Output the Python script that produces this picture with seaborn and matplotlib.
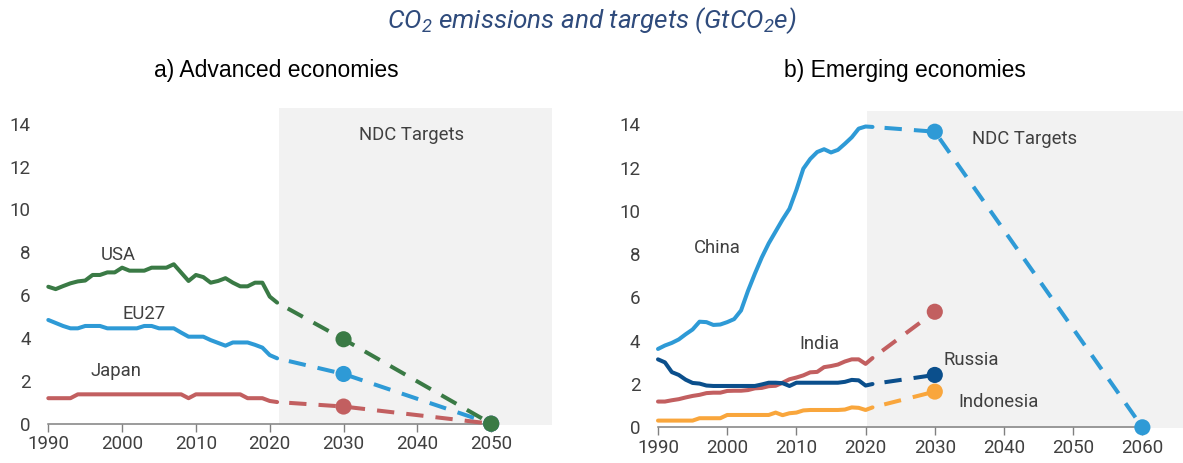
import matplotlib
matplotlib.use("Agg")
import matplotlib.pyplot as plt
import numpy as np
import pandas as pd
import seaborn as sns

# ---------------- data ----------------
years = list(range(1990, 2022))

usa = [6.39, 6.28, 6.42, 6.55, 6.64, 6.68, 6.94, 6.94, 7.06, 7.06,
       7.28, 7.14, 7.14, 7.14, 7.28, 7.28, 7.28, 7.44, 7.05, 6.66,
       6.94, 6.84, 6.58, 6.66, 6.79, 6.58, 6.41, 6.41, 6.58, 6.58,
       5.93, 5.65]
eu27 = [4.84, 4.70, 4.56, 4.45, 4.45, 4.56, 4.56, 4.56, 4.45, 4.45,
        4.45, 4.45, 4.45, 4.56, 4.56, 4.45, 4.45, 4.45, 4.25, 4.06,
        4.06, 4.06, 3.90, 3.77, 3.64, 3.79, 3.79, 3.79, 3.68, 3.55,
        3.20, 3.05]
japan = [1.19, 1.19, 1.19, 1.19, 1.37, 1.37, 1.37, 1.37, 1.37, 1.37,
         1.37, 1.37, 1.37, 1.37, 1.37, 1.37, 1.37, 1.37, 1.37, 1.19,
         1.37, 1.37, 1.37, 1.37, 1.37, 1.37, 1.37, 1.19, 1.19, 1.19,
         1.06, 1.01]

china = [3.62, 3.78, 3.90, 4.06, 4.30, 4.52, 4.88, 4.86, 4.73, 4.75,
         4.86, 5.00, 5.40, 6.30, 7.10, 7.85, 8.50, 9.05, 9.60, 10.10,
         10.97, 11.95, 12.40, 12.72, 12.85, 12.70, 12.82, 13.10, 13.40, 13.80,
         13.90, 13.88]
india = [1.19, 1.19, 1.25, 1.30, 1.38, 1.45, 1.50, 1.58, 1.60, 1.60,
         1.68, 1.69, 1.69, 1.72, 1.80, 1.82, 1.90, 1.92, 2.06, 2.22,
         2.30, 2.40, 2.54, 2.56, 2.78, 2.83, 2.90, 3.04, 3.14, 3.14,
         2.93, 3.20]
russia = [3.14, 3.00, 2.55, 2.42, 2.20, 2.05, 2.02, 1.93, 1.91, 1.91,
          1.91, 1.91, 1.91, 1.91, 1.91, 1.98, 2.06, 2.06, 2.04, 1.91,
          2.06, 2.06, 2.06, 2.06, 2.06, 2.06, 2.06, 2.10, 2.19, 2.17,
          1.93, 2.00]
indonesia = [0.31, 0.31, 0.31, 0.31, 0.31, 0.31, 0.42, 0.42, 0.42, 0.42,
             0.57, 0.57, 0.57, 0.57, 0.57, 0.57, 0.57, 0.68, 0.56, 0.65,
             0.68, 0.78, 0.80, 0.80, 0.80, 0.80, 0.80, 0.82, 0.92, 0.90,
             0.80, 0.92]

# NDC targets
adv_target_years = [2030, 2050]
usa_target = [3.94, 0.0]
eu27_target = [2.32, 0.0]
japan_target = [0.80, 0.0]

china_target_years = [2030, 2060]
china_target = [13.66, 0.0]
emg_target_years = [2030]
india_target = [5.34]
russia_target = [2.42]
indonesia_target = [1.65]

adv_ticks = [1990, 2000, 2010, 2020, 2030, 2040, 2050]
emg_ticks = [1990, 2000, 2010, 2020, 2030, 2040, 2050, 2060]
y_ticks = [0, 2, 4, 6, 8, 10, 12, 14]

colors = {
    "USA": "#3A7A45",
    "EU27": "#2E9AD6",
    "Japan": "#C25F60",
    "China": "#2E9AD6",
    "India": "#C25F60",
    "Russia": "#0B4F8C",
    "Indonesia": "#F9A63C",
}

# ---------------- frames ----------------
def hist_frame(series):
    rows = []
    for name, vals in series:
        for y, v in zip(years, vals):
            rows.append((name, y, v))
    return pd.DataFrame(rows, columns=["country", "year", "value"])


def proj_frame(series):
    rows = []
    for name, vals, tyears, tvals in series:
        rows.append((name, years[-1], vals[-1]))
        for y, v in zip(tyears, tvals):
            rows.append((name, y, v))
    return pd.DataFrame(rows, columns=["country", "year", "value"])


def target_frame(series):
    rows = []
    for name, tyears, tvals in series:
        for y, v in zip(tyears, tvals):
            rows.append((name, y, v))
    return pd.DataFrame(rows, columns=["country", "year", "value"])


adv_series = [("Japan", japan, adv_target_years, japan_target),
              ("EU27", eu27, adv_target_years, eu27_target),
              ("USA", usa, adv_target_years, usa_target)]
emg_series = [("Indonesia", indonesia, emg_target_years, indonesia_target),
              ("India", india, emg_target_years, india_target),
              ("Russia", russia, emg_target_years, russia_target),
              ("China", china, china_target_years, china_target)]

adv_hist = hist_frame([(n, v) for n, v, _, _ in adv_series])
adv_proj = proj_frame(adv_series)
adv_tgt = target_frame([(n, ty, tv) for n, _, ty, tv in adv_series])
emg_hist = hist_frame([(n, v) for n, v, _, _ in emg_series])
emg_proj = proj_frame(emg_series)
emg_tgt = target_frame([(n, ty, tv) for n, _, ty, tv in emg_series])

# ---------------- style ----------------
sns.set_theme(style="white")
plt.rcParams["font.family"] = ["Roboto", "DejaVu Sans"]
plt.rcParams["mathtext.fontset"] = "custom"
plt.rcParams["mathtext.rm"] = "Roboto:italic"
plt.rcParams["mathtext.it"] = "Roboto:italic"
plt.rcParams["mathtext.default"] = "regular"

TXT = "#404040"
AXC = "#808080"
SHADE = "#F2F2F2"
LW = 2.9
DASH = (4.3, (4.3, 3.0))

W, H = 1183, 463
fig = plt.figure(figsize=(W / 100, H / 100), dpi=100)

axL = fig.add_axes([48.3 / W, 1 - 425.3 / H, (551.7 - 48.3) / W, (425.3 - 107.7) / H])
axR = fig.add_axes([658.0 / W, 1 - 428.3 / H, (1183 - 658.0) / W, (428.3 - 110.7) / H])


def draw(ax, hist, proj, tgt, order, xlim, ylim, shade_start, spine_end, ticks):
    ax.set_xlim(*xlim)
    ax.set_ylim(*ylim)
    ax.axvspan(shade_start, xlim[1], color=SHADE, lw=0, zorder=0)
    pal = {k: colors[k] for k in order}
    sns.lineplot(data=proj, x="year", y="value", hue="country", hue_order=order,
                 palette=pal, legend=False, ax=ax, lw=LW, linestyle=DASH,
                 dash_capstyle="butt", errorbar=None, sort=False, clip_on=False,
                 zorder=2)
    sns.lineplot(data=hist, x="year", y="value", hue="country", hue_order=order,
                 palette=pal, legend=False, ax=ax, lw=LW,
                 solid_capstyle="round", solid_joinstyle="round",
                 errorbar=None, clip_on=False, zorder=3)
    sns.scatterplot(data=tgt, x="year", y="value", hue="country", hue_order=order,
                    palette=pal, legend=False, ax=ax, s=135, linewidth=0,
                    edgecolor="none", zorder=4, clip_on=False)
    for s in ["top", "right", "left"]:
        ax.spines[s].set_visible(False)
    ax.spines["bottom"].set_position(("data", 0))
    ax.spines["bottom"].set_bounds(1990, spine_end)
    ax.spines["bottom"].set_color(AXC)
    ax.spines["bottom"].set_linewidth(1.1)
    ax.spines["bottom"].set_zorder(1.5)
    ax.set_xticks(ticks)
    ax.set_yticks(y_ticks)
    ax.set_xticklabels([str(t) for t in ticks])
    ax.set_yticklabels([str(t) for t in y_ticks])
    ax.tick_params(axis="x", length=5.8, width=1.0, color=AXC, pad=2.5,
                   labelsize=13.5, labelcolor=TXT, direction="out", bottom=True)
    ax.tick_params(axis="y", length=0, pad=12.7, labelsize=13.5, labelcolor=TXT)
    ax.set_xlabel("")
    ax.set_ylabel("")
    ax.grid(False)
    ax.patch.set_alpha(0)


draw(axL, adv_hist, adv_proj, adv_tgt, ["Japan", "EU27", "USA"],
     (1990, 2058.2), (-0.075, 14.745), 2021.3, 2050.3, adv_ticks)
draw(axR, emg_hist, emg_proj, emg_tgt, ["Indonesia", "India", "Russia", "China"],
     (1990, 2065.87), (-0.046, 14.63), 2020.2, 2060, emg_ticks)

lab = dict(color=TXT, fontsize=13.3, ha="center", va="baseline")
axL.text(1999.5, 7.64, "USA", **lab)
axL.text(2003.0, 4.87, "EU27", **lab)
axL.text(1999.1, 2.23, "Japan", **lab)
axL.text(2039.2, 13.24, "NDC Targets", **lab)

axR.text(1998.5, 8.04, "China", **lab)
axR.text(2013.3, 3.60, "India", **lab)
axR.text(2035.3, 2.88, "Russia", **lab)
axR.text(2039.2, 0.92, "Indonesia", **lab)
axR.text(2043.0, 13.09, "NDC Targets", **lab)

fig.text(0.5, 1 - 28.3 / H, r"CO$_2$ emissions and targets (GtCO$_2$e)",
         ha="center", va="baseline", fontsize=18.8, style="italic", color="#2F4B7C")
fig.text(276 / W, 1 - 77.3 / H, "a) Advanced economies", ha="center", va="baseline",
         fontsize=16.5, color="black", family=["Liberation Sans", "DejaVu Sans"])
fig.text(905 / W, 1 - 77.3 / H, "b) Emerging economies", ha="center", va="baseline",
         fontsize=16.5, color="black", family=["Liberation Sans", "DejaVu Sans"])

fig.savefig("out.png", dpi=100)
